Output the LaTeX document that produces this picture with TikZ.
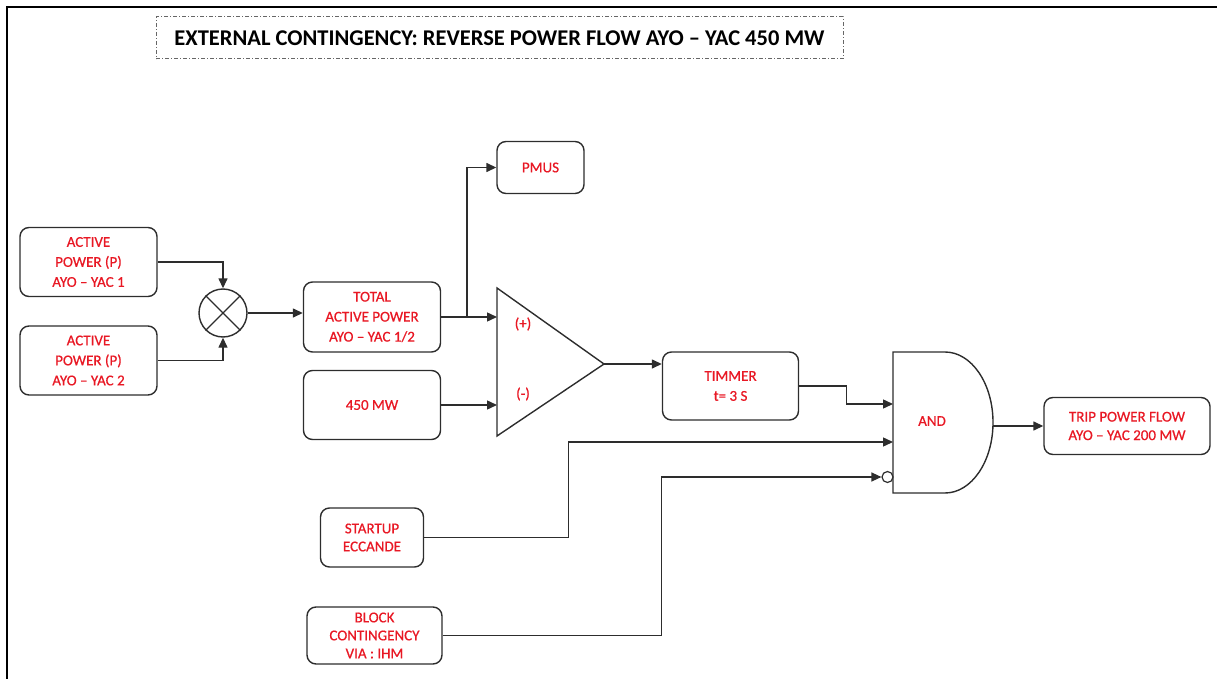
\documentclass[tikz,border=0pt]{standalone}
\usepackage{fontspec}
\setmainfont{Carlito}
\newfontfamily\lblfont[FakeBold=0.6]{Carlito}
\usetikzlibrary{arrows.meta,calc}
\definecolor{txtred}{RGB}{232,24,36}
\definecolor{linegray}{RGB}{45,45,45}
\tikzset{
  blk/.style={draw=linegray,line width=1.4pt,rounded corners=9pt,align=center,
    text=txtred,font=\lblfont\fontsize{15}{20}\selectfont,inner sep=0pt},
  conn/.style={draw=linegray,line width=1.4pt},
  arr/.style={conn,-{Triangle[length=10pt,width=9pt]}},
  sym/.style={text=txtred,font=\lblfont\fontsize{15}{20}\selectfont,inner sep=0pt}
}
\begin{document}
\begin{tikzpicture}[x=1pt,y=-1pt]
\useasboundingbox (0,0) rectangle (1217,679);
% frame
\draw[line width=2.4pt,black] (7,679) -- (7,7) -- (1217,7);
% title
\node[draw=gray!80!black,line width=1pt,dash pattern=on 4pt off 2pt on 1pt off 2pt,
  minimum width=687pt,minimum height=42pt,inner sep=0pt,
  font=\fontsize{22.5}{26}\selectfont\bfseries] (title) at (499.5,38)
  {EXTERNAL CONTINGENCY: REVERSE POWER FLOW AYO – YAC 450 MW};
% blocks
\node[blk,minimum width=137pt,minimum height=69pt] (ap1) at (88.5,262) {ACTIVE\\POWER (P)\\AYO – YAC 1};
\node[blk,minimum width=137pt,minimum height=69pt] (ap2) at (88.5,360.5) {ACTIVE\\POWER (P)\\AYO – YAC 2};
\node[draw=linegray,line width=1.4pt,circle,minimum size=48pt,inner sep=0pt] (sum) at (223,313) {};
\draw[conn,line width=1.2pt] (sum.north west) -- (sum.south east) (sum.north east) -- (sum.south west);
\node[blk,minimum width=137pt,minimum height=70pt] (total) at (372,317) {TOTAL\\ACTIVE POWER\\AYO – YAC 1/2};
\node[blk,minimum width=137pt,minimum height=69pt] (mw) at (372,405) {450 MW};
\node[blk,minimum width=87pt,minimum height=52pt] (pmus) at (540.5,167.5) {PMUS};
\node[blk,minimum width=136pt,minimum height=68pt] (timer) at (730.5,386) {TIMMER\\t= 3 S};
\node[blk,minimum width=166pt,minimum height=57pt,font=\lblfont\fontsize{15}{18.5}\selectfont] (trip) at (1127,426) {TRIP POWER FLOW\\AYO – YAC 200 MW};
\node[blk,minimum width=103pt,minimum height=59pt,font=\lblfont\fontsize{15}{18}\selectfont] (startup) at (372,537.5) {STARTUP\\ECCANDE};
\node[blk,minimum width=135pt,minimum height=57pt,font=\lblfont\fontsize{15}{18}\selectfont] (block) at (374.5,635.5) {BLOCK\\CONTINGENCY\\VIA : IHM};
% comparator
\coordinate (triA) at (497,288);
\coordinate (triB) at (497,436);
\coordinate (triout) at (604,364);
\coordinate (tri-p) at (497,317);
\coordinate (tri-m) at (497,405);
\draw[conn] (triA) -- (triout) -- (triB) -- cycle;
\node[sym] (plus) at (523,324) {(+)};
\node[sym] (minus) at (523,394) {(-)};
% AND gate
\draw[conn] (945,352) -- (893,352) -- (893,493) -- (945,493)
  arc[start angle=90,end angle=-90,x radius=48,y radius=70.5] -- cycle;
\node[sym] (and) at (932,421) {AND};
\coordinate (and1) at (893,404);
\coordinate (and2) at (893,442);
\coordinate (andout) at (993,426);
\node[draw=linegray,line width=1.2pt,circle,minimum size=11pt,inner sep=0pt] (neg) at (887.5,477) {};
% connectors
\draw[arr] (ap1.east) -| (sum.north);
\draw[arr] (ap2.east) -| (sum.south);
\draw[arr] (sum.east) -- (sum.east -| total.west);
\draw[arr] (total.east) -- (tri-p);
\coordinate (br) at (467,317);
\draw[arr] (br) |- (pmus.west);
\draw[arr] (mw.east) -- (tri-m);
\draw[arr] (triout) -- (triout -| timer.west);
\draw[arr] (timer.east) -- ++(47,0) |- (and1);
\draw[arr] (startup.east) -- ++(144,0) |- (and2);
\draw[arr] (block.east) -- ++(219,0) |- (neg.west);
\draw[arr] (andout) -- (trip.west);
\end{tikzpicture}
\end{document}
